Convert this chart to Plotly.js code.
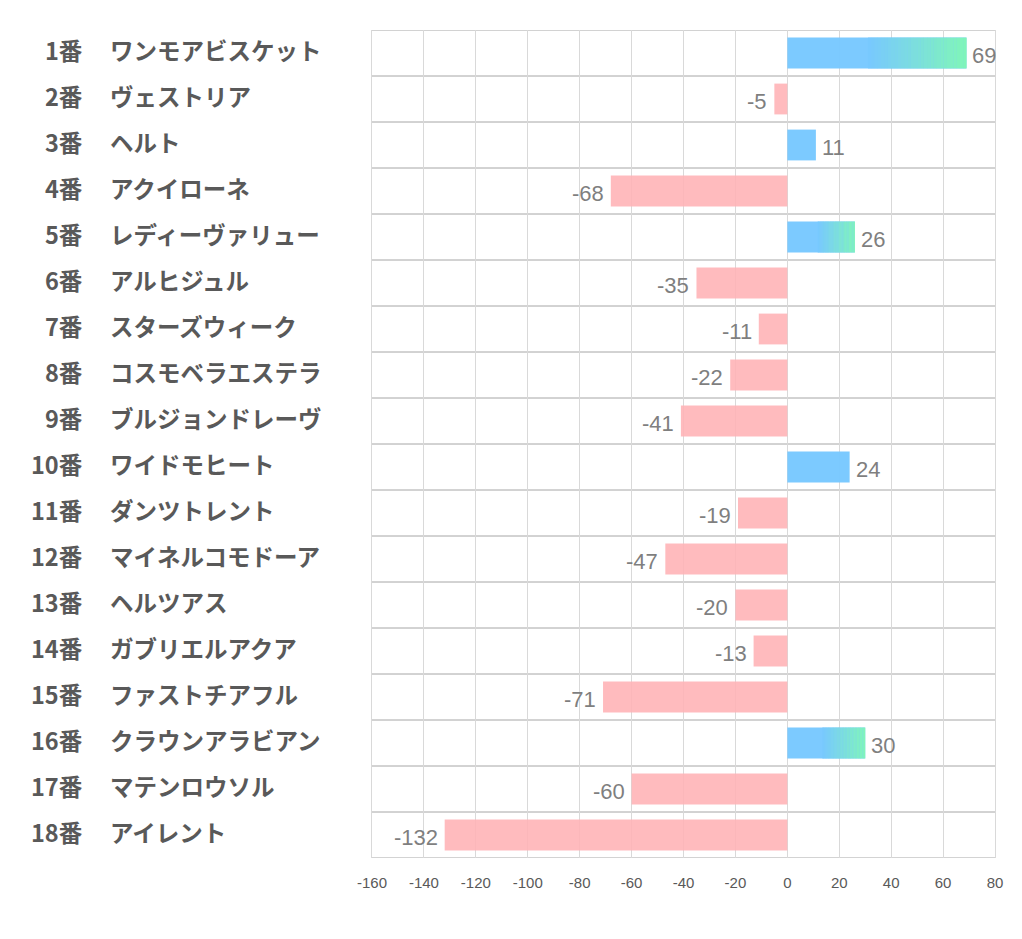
<!DOCTYPE html>
<html>
<head>
<meta charset="utf-8">
<script src="https://cdn.plot.ly/plotly-3.0.1.min.js"></script>
<style>
html,body{margin:0;padding:0;background:#fff;}
#chart{width:1022px;height:939px;}
</style>
</head>
<body>
<div id="chart"></div>
<script>
const numbers = ["1番","2番","3番","4番","5番","6番","7番","8番","9番","10番","11番","12番","13番","14番","15番","16番","17番","18番"];
const names = ["ワンモアビスケット","ヴェストリア","ヘルト","アクイローネ","レディーヴァリュー","アルヒジュル","スターズウィーク","コスモベラエステラ","ブルジョンドレーヴ","ワイドモヒート","ダンツトレント","マイネルコモドーア","ヘルツアス","ガブリエルアクア","ファストチアフル","クラウンアラビアン","マテンロウソル","アイレント"];
const values = [69,-5,11,-68,26,-35,-11,-22,-41,24,-19,-47,-20,-13,-71,30,-60,-132];
const highlighted = [true,false,false,false,true,false,false,false,false,false,false,false,false,false,false,true,false,false];
const xTicks = [-160,-140,-120,-100,-80,-60,-40,-20,0,20,40,60,80];

const BLUE = [120,200,255];
const GREEN = [128,246,184];
const PINK = 'rgba(255,178,181,0.88)';
const BAR_W = 0.67;

const idx = values.map((v,i)=>i);

const main = {
  type:'bar', orientation:'h',
  x: values, y: idx, width: values.map(()=>BAR_W),
  marker:{color: values.map(v => v>=0 ? 'rgba(120,200,255,0.97)' : PINK), line:{width:0}},
  hoverinfo:'x+y', showlegend:false
};

// gradient overlay for highlighted bars: second half fades from blue to green
const gx=[], gy=[], gb=[], gc=[], gw=[];
const N = 30;
values.forEach((v,i)=>{
  if(!highlighted[i]) return;
  const start = v*0.45, seg = (v-start)/N;
  for(let k=0;k<N;k++){
    const t = (k+0.5)/N;
    const c = BLUE.map((b,j)=>Math.round(b+(GREEN[j]-b)*t));
    gx.push(seg*1.05); gy.push(i); gb.push(start+seg*k); gw.push(BAR_W);
    gc.push('rgb('+c.join(',')+')');
  }
});
const grad = {
  type:'bar', orientation:'h', x:gx, y:gy, base:gb, width:gw,
  marker:{color:gc, line:{width:0}}, hoverinfo:'skip', showlegend:false
};

const shapes = [];
for(let i=0;i<=values.length;i++){
  shapes.push({type:'line', xref:'paper', x0:0, x1:1, yref:'y', y0:i-0.5, y1:i-0.5,
    line:{color:'#a6a6a6', width:1}, layer:'below'});
}

const labelFont = {family:'Noto Sans CJK JP, sans-serif', size:23.5, color:'#595959', weight:'bold'};
const annotations = [];
idx.forEach(i=>{
  annotations.push({xref:'paper', yref:'y', x:-0.4607, y:i, xanchor:'right', yanchor:'middle',
    text:numbers[i], showarrow:false, yshift:3, font:labelFont});
  annotations.push({xref:'paper', yref:'y', x:-0.4238, y:i, xanchor:'left', yanchor:'middle',
    text:names[i], showarrow:false, yshift:3, font:labelFont});
  const v = values[i];
  annotations.push({xref:'x', yref:'y', x:v, y:i, xanchor: v>=0 ? 'left':'right', yanchor:'middle',
    xshift: v>=0 ? 4 : -5, yshift:-2,
    text:String(v), showarrow:false,
    font:{family:'Liberation Sans, Arial, sans-serif', size:22, color:'#7f7f7f'}});
});

const layout = {
  width:1022, height:939,
  margin:{l:372, r:27, t:30, b:81},
  paper_bgcolor:'#fff', plot_bgcolor:'#fff',
  barmode:'overlay',
  xaxis:{range:[-160,80], tickvals:xTicks, ticktext:xTicks.map(String),
    showgrid:true, gridcolor:'#d9d9d9', gridwidth:1, zeroline:false,
    showline:false, ticks:'outside', ticklen:11, tickcolor:'rgba(0,0,0,0)',
    tickfont:{family:'Liberation Sans, Arial, sans-serif', size:15, color:'#595959'}},
  yaxis:{range:[values.length-0.5,-0.5], showticklabels:false, showgrid:false, zeroline:false,
    showline:true, mirror:true, linecolor:'#d9d9d9', linewidth:1, ticks:''},
  shapes: shapes,
  annotations: annotations,
  font:{family:'Noto Sans CJK JP, sans-serif'}
};

Plotly.newPlot('chart',[main,grad],layout,{displayModeBar:false, staticPlot:true});
</script>
</body>
</html>
